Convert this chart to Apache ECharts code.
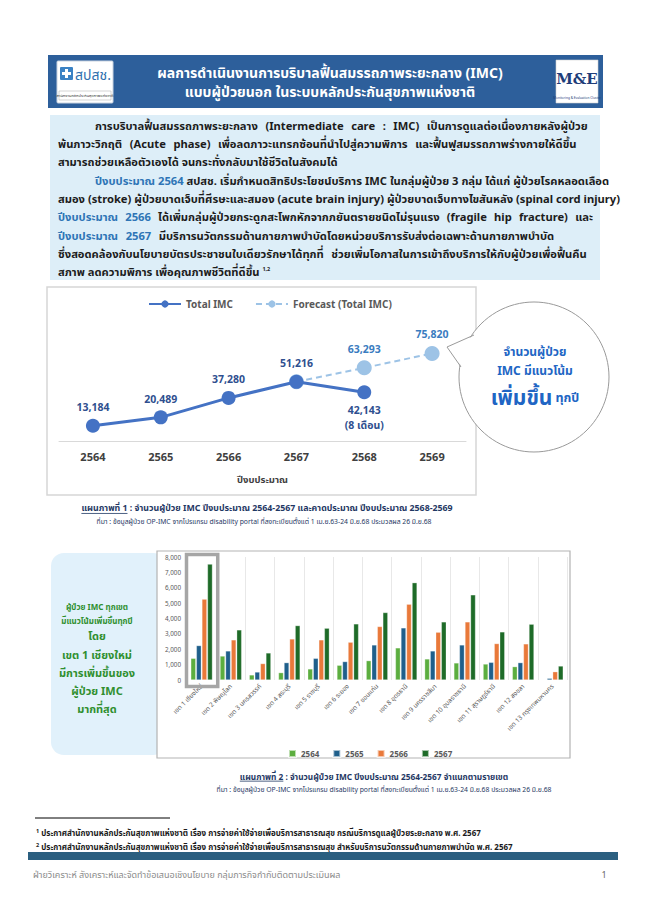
<!DOCTYPE html>
<html><head><meta charset="utf-8">
<script src="https://cdn.jsdelivr.net/npm/echarts@6.0.0/dist/echarts.min.js"></script>
<style>html,body{margin:0;padding:0;background:#fff}#c{width:647px;height:912px}#m{position:absolute;left:-9999px;top:0;white-space:pre;visibility:hidden}</style>
</head><body><div id="c"></div><span id="m"></span>
<script>
// ---------- data ----------
const lineYears = ['2564', '2565', '2566', '2567', '2568', '2569'];
const totalIMC = [13184, 20489, 37280, 51216, 42143, null];
const forecastIMC = [null, null, null, 51216, 63293, 75820];

const regions = ['เขต 1 เชียงใหม่', 'เขต 2 พิษณุโลก', 'เขต 3 นครสวรรค์', 'เขต 4 สระบุรี', 'เขต 5 ราชบุรี', 'เขต 6 ระยอง', 'เขต 7 ขอนแก่น', 'เขต 8 อุดรธานี', 'เขต 9 นครราชสีมา', 'เขต 10 อุบลราชธานี', 'เขต 11 สุราษฎร์ธานี', 'เขต 12 สงขลา', 'เขต 13 กรุงเทพมหานคร'];
const barYears = ['2564', '2565', '2566', '2567'];
const y2564 = [1410, 1560, 330, 480, 720, 960, 1260, 2090, 1370, 1110, 1040, 870, 0];
const y2565 = [2240, 1890, 520, 1130, 1410, 1200, 2280, 3390, 1890, 2280, 1150, 1130, 110];
const y2566 = [5260, 2610, 1070, 2670, 2610, 2460, 3480, 4930, 3110, 3780, 2370, 2350, 540];
const y2567 = [7540, 3260, 1760, 3540, 3370, 3650, 4390, 6330, 3780, 5540, 3130, 3630, 910];

// ---------- styles ----------
const FONT = "'Noto Sans', 'Noto Sans Thai', sans-serif";
const barColors = ['#5cae3f', '#1f5f8b', '#e9793a', '#1e6b28'];
const fmt = v => Number(v).toLocaleString('en-US');

const measureSpan = document.getElementById('m');
function textW(str, size, weight) {
  measureSpan.style.font = (weight || 'bold') + ' ' + size + 'px ' + FONT;
  measureSpan.textContent = str;
  return measureSpan.getBoundingClientRect().width;
}

function T(text, x, y, size, fill, opts) {
  return {
    type: 'text', z: 50,
    style: Object.assign({
      text: text, x: x, y: y, fill: fill, fontSize: size, fontWeight: 'bold',
      fontFamily: FONT, verticalAlign: 'middle', align: 'left'
    }, opts || {})
  };
}

// caption with underlined lead
function caption(lead, rest, cx, y, size, color) {
  const full = lead + rest;
  const w = textW(full, size);
  const lw = textW(lead, size);
  const x0 = cx - w / 2;
  return [
    T(full, x0, y, size, color),
    { type: 'line', z: 50, shape: { x1: x0, y1: y + size * 0.62, x2: x0 + lw, y2: y + size * 0.62 }, style: { stroke: color, lineWidth: 0.8 } }
  ];
}

// ---------- paragraph ----------
const PF = 11.2;
const PARA_RIGHT = 593;
const BLUE = '#2e75b6', INK = '#1c1c1c';
const paraRich = {
  b: { fill: BLUE, color: BLUE, fontSize: PF, fontWeight: 'bold', fontFamily: FONT },
  s: { fill: '#222', color: '#222', fontSize: 5.5, fontWeight: 'bold', fontFamily: FONT, verticalAlign: 'top' }
};
// [x start, justify, text]  ({b|...} marks blue words)
const paraLines = [
  [95, true, 'การบริบาลฟื้นสมรรถภาพระยะกลาง (Intermediate care : IMC) เป็นการดูแลต่อเนื่องภายหลังผู้ป่วย'],
  [58, true, 'พ้นภาวะวิกฤติ (Acute phase) เพื่อลดภาวะแทรกซ้อนที่นำไปสู่ความพิการ และฟื้นฟูสมรรถภาพร่างกายให้ดีขึ้น'],
  [58, false, 'สามารถช่วยเหลือตัวเองได้ จนกระทั่งกลับมาใช้ชีวิตในสังคมได้'],
  [95, true, '{b|ปีงบประมาณ 2564} สปสช. เริ่มกำหนดสิทธิประโยชน์บริการ IMC ในกลุ่มผู้ป่วย 3 กลุ่ม ได้แก่ ผู้ป่วยโรคหลอดเลือด'],
  [58, true, 'สมอง (stroke) ผู้ป่วยบาดเจ็บที่ศีรษะและสมอง (acute brain injury) ผู้ป่วยบาดเจ็บทางไขสันหลัง (spinal cord injury)'],
  [58, true, '{b|ปีงบประมาณ 2566} ได้เพิ่มกลุ่มผู้ป่วยกระดูกสะโพกหักจากภยันตรายชนิดไม่รุนแรง (fragile hip fracture) และ'],
  [58, true, '{b|ปีงบประมาณ 2567} มีบริการนวัตกรรมด้านกายภาพบำบัดโดยหน่วยบริการรับส่งต่อเฉพาะด้านกายภาพบำบัด'],
  [58, true, 'ซึ่งสอดคล้องกับนโยบายบัตรประชาชนใบเดียวรักษาได้ทุกที่ ช่วยเพิ่มโอกาสในการเข้าถึงบริการให้กับผู้ป่วยเพื่อฟื้นคืน'],
  [58, false, 'สภาพ ลดความพิการ เพื่อคุณภาพชีวิตที่ดีขึ้น {s|1,2}']
];
const paraY = [125, 143, 161, 180, 198, 216, 235, 253, 271];

function paraElements() {
  const out = [];
  const spaceW = textW('a b', PF) - textW('ab', PF);
  paraLines.forEach((l, i) => {
    const x0 = l[0], just = l[1], txt = l[2], y = paraY[i];
    if (!just) { out.push(T(txt, x0, y, PF, INK, { rich: paraRich })); return; }
    const words = [];
    txt.split(/(\{b\|[^}]*\})/).forEach(part => {
      if (!part) return;
      const m = part.match(/^\{b\|([^}]*)\}$/);
      const color = m ? BLUE : INK;
      (m ? m[1] : part).split(' ').forEach(w => { if (w) words.push({ w: w, c: color }); });
    });
    const widths = words.map(o => textW(o.w, PF));
    const sum = widths.reduce((a, b) => a + b, 0);
    let gap = words.length > 1 ? (PARA_RIGHT - x0 - sum) / (words.length - 1) : 0;
    gap = Math.min(Math.max(gap, spaceW), spaceW * 2.6);
    let x = x0;
    words.forEach((o, k) => {
      out.push(T(o.w, x, y, PF, o.c));
      x += widths[k] + gap;
    });
  });
  return out;
}

const supRich = { s: { fontSize: 5.5, fill: '#1a1a1a', color: '#1a1a1a', verticalAlign: 'top', fontFamily: FONT, fontWeight: 'bold' } };

const elements = [
  // banner
  { type: 'rect', z: -10, shape: { x: 48, y: 55, width: 555, height: 53 }, style: { fill: '#2d5f9b' } },
  { type: 'rect', z: 40, shape: { x: 57, y: 61, width: 56, height: 42, r: 1 }, style: { fill: '#ffffff', stroke: '#c9d3e0' } },
  { type: 'rect', z: 41, shape: { x: 60, y: 67, width: 13, height: 13, r: 1 }, style: { fill: '#3b82c4' } },
  { type: 'rect', z: 42, shape: { x: 65, y: 69, width: 3, height: 9 }, style: { fill: '#fff' } },
  { type: 'rect', z: 42, shape: { x: 62, y: 72, width: 9, height: 3 }, style: { fill: '#fff' } },
  T('สปสช.', 75, 74, 14, '#2f6fae', { fontWeight: 'normal' }),
  { type: 'rect', z: 41, shape: { x: 59, y: 91, width: 52, height: 9 }, style: { fill: '#fff', stroke: '#b9b9b9', lineWidth: 0.6 } },
  T('สำนักงานหลักประกันสุขภาพแห่งชาติ', 85, 95.5, 4, '#333', { align: 'center', fontWeight: 'normal' }),
  T('ผลการดำเนินงานการบริบาลฟื้นสมรรถภาพระยะกลาง (IMC)', 330, 72, 14, '#ffffff', { align: 'center' }),
  T('แบบผู้ป่วยนอก ในระบบหลักประกันสุขภาพแห่งชาติ', 330, 91, 14, '#ffffff', { align: 'center' }),
  { type: 'rect', z: 40, shape: { x: 556, y: 60, width: 42, height: 43 }, style: { fill: '#ffffff', stroke: '#d0d0d0', lineWidth: 0.6 } },
  T('M&E', 577, 79, 15, '#1f3e7a', { align: 'center', fontFamily: "'DejaVu Serif', serif", fontWeight: 'bold' }),
  T('Monitoring & Evaluation Cluster', 577, 98, 3.2, '#1f3e7a', { align: 'center', fontWeight: 'normal' }),

  // paragraph box
  { type: 'rect', z: -10, shape: { x: 50, y: 115, width: 550, height: 165 }, style: { fill: '#ddeef8' } }
].concat(paraElements()).concat([

  // line chart box
  { type: 'rect', z: -10, shape: { x: 47, y: 287, width: 429, height: 208 }, style: { fill: '#ffffff', stroke: '#d6d6d6', lineWidth: 1.5 } },
  // speech bubble
  { type: 'circle', z: 45, shape: { cx: 534, cy: 377, r: 75 }, style: { fill: '#ffffff', stroke: '#9a9a9a', lineWidth: 1 } },
  { type: 'polygon', z: 46, shape: { points: [[474, 336], [447, 347], [462, 367], [468, 352]] }, style: { fill: '#ffffff' } },
  { type: 'polyline', z: 47, shape: { points: [[474, 335], [447, 347], [461, 367]] }, style: { stroke: '#9a9a9a', lineWidth: 1, fill: null } },
  T('จำนวนผู้ป่วย', 535, 351, 12, '#2065c4', { align: 'center' }),
  T('IMC มีแนวโน้ม', 535, 370, 12, '#2065c4', { align: 'center' }),
  T('{a|เพิ่มขึ้น} {c|ทุกปี}', 535, 397, 12, '#2065c4', { align: 'center', rich: {
    a: { fill: '#2065c4', color: '#2065c4', fontSize: 21, fontWeight: 'bold', fontFamily: FONT },
    c: { fill: '#2065c4', color: '#2065c4', fontSize: 12.5, fontWeight: 'bold', fontFamily: FONT } } })
]).concat(caption('แผนภาพที่ 1', ' : จำนวนผู้ป่วย IMC ปีงบประมาณ 2564-2567 และคาดประมาณ ปีงบประมาณ 2568-2569', 267, 508, 8.8, '#1f3864')).concat([
  T('ที่มา : ข้อมูลผู้ป่วย OP-IMC จากโปรแกรม disability portal ที่ลงทะเบียนตั้งแต่ 1 เม.ย.63-24 มิ.ย.68 ประมวลผล 26 มิ.ย.68', 264, 521, 6.8, '#1f3864', { align: 'center', fontWeight: 'normal' }),

  // left note box
  { type: 'rect', z: -12, shape: { x: 51, y: 553, width: 115, height: 202, r: 13 }, style: { fill: '#e1f1fb' } },
  T('ผู้ป่วย IMC ทุกเขต', 97, 606, 8, '#2f8f2f', { align: 'center' }),
  T('มีแนวโน้มเพิ่มขึ้นทุกปี', 97, 620, 8, '#2f8f2f', { align: 'center' }),
  T('โดย', 97, 635, 11, '#2f8f2f', { align: 'center' }),
  T('เขต 1 เชียงใหม่', 97, 654, 11, '#2f8f2f', { align: 'center' }),
  T('มีการเพิ่มขึ้นของ', 97, 672, 11, '#2f8f2f', { align: 'center' }),
  T('ผู้ป่วย IMC', 97, 690, 11, '#2f8f2f', { align: 'center' }),
  T('มากที่สุด', 97, 708, 11, '#2f8f2f', { align: 'center' }),

  // bar chart box
  { type: 'rect', z: -10, shape: { x: 157, y: 551, width: 413, height: 207 }, style: { fill: '#ffffff', stroke: '#b3b3b3', lineWidth: 1.2 } }
]).concat(caption('แผนภาพที่ 2', ' : จำนวนผู้ป่วย IMC ปีงบประมาณ 2564-2567 จำแนกตามรายเขต', 374, 776, 8.3, '#1f3864')).concat([
  T('ที่มา : ข้อมูลผู้ป่วย OP-IMC จากโปรแกรม disability portal ที่ลงทะเบียนตั้งแต่ 1 เม.ย.63-24 มิ.ย.68 ประมวลผล 26 มิ.ย.68', 384, 789, 6.8, '#1f3864', { align: 'center', fontWeight: 'normal' }),

  // footnotes
  { type: 'line', z: 40, shape: { x1: 35, y1: 818, x2: 170, y2: 818 }, style: { stroke: '#000', lineWidth: 1 } },
  T('{s|1} ประกาศสำนักงานหลักประกันสุขภาพแห่งชาติ เรื่อง การจ่ายค่าใช้จ่ายเพื่อบริการสาธารณสุข กรณีบริการดูแลผู้ป่วยระยะกลาง พ.ศ. 2567', 36, 832, 8, '#1a1a1a', { rich: supRich }),
  T('{s|2} ประกาศสำนักงานหลักประกันสุขภาพแห่งชาติ เรื่อง การจ่ายค่าใช้จ่ายเพื่อบริการสาธารณสุข สำหรับบริการนวัตกรรมด้านกายภาพบำบัด พ.ศ. 2567', 36, 846, 8, '#1a1a1a', { rich: supRich }),

  // footer
  { type: 'rect', z: -10, shape: { x: 28, y: 852, width: 590, height: 8 }, style: { fill: '#2b5f80' } },
  T('ฝ่ายวิเคราะห์ สังเคราะห์และจัดทำข้อเสนอเชิงนโยบาย กลุ่มภารกิจกำกับติดตามประเมินผล', 33, 874, 9, '#8a8a8a', { fontWeight: 'normal' }),
  T('1', 604, 874, 9, '#666', { align: 'center', fontWeight: 'normal' })
]);
// measuring helper no longer needed
measureSpan.parentNode.removeChild(measureSpan);

const totalData = totalIMC.map((v, i) => {
  if (v == null) return null;
  if (i === 4) return { value: v, label: { position: 'bottom', distance: 3, formatter: p => fmt(p.value) + '\n(8 เดือน)', lineHeight: 15 } };
  return v;
});
const forecastData = forecastIMC.map((v, i) => {
  if (v == null) return null;
  if (totalIMC[i] === v) return { value: v, label: { show: false } };
  return v;
});

const chart = echarts.init(document.getElementById('c'), null, { renderer: 'svg', width: 647, height: 912 });
const option = {
  backgroundColor: '#ffffff',
  animation: false,
  textStyle: { fontFamily: FONT },
  graphic: { elements: elements },
  grid: [
    { left: 59, top: 337, width: 407, height: 104 },
    { left: 187, top: 557, width: 380, height: 123 }
  ],
  legend: [
    {
      left: 143, top: 294, itemWidth: 32, itemHeight: 9, itemGap: 22,
      data: ['Total IMC', 'Forecast (Total IMC)'],
      textStyle: { color: '#595959', fontSize: 10, fontWeight: 'bold', fontFamily: FONT }
    },
    {
      left: 283, top: 744, itemWidth: 7, itemHeight: 7, itemGap: 13, icon: 'rect',
      data: barYears,
      textStyle: { color: '#595959', fontSize: 8, fontWeight: 'bold', fontFamily: FONT }
    }
  ],
  xAxis: [
    {
      gridIndex: 0, type: 'category', data: lineYears, boundaryGap: true,
      axisLine: { lineStyle: { color: '#d9d9d9', width: 1 } },
      axisTick: { show: false },
      axisLabel: { color: '#404040', fontSize: 11, fontWeight: 'bold', margin: 10, fontFamily: FONT },
      name: 'ปีงบประมาณ', nameLocation: 'middle', nameGap: 33,
      nameTextStyle: { color: '#404040', fontSize: 9.5, fontWeight: 'bold', fontFamily: FONT }
    },
    {
      gridIndex: 1, type: 'category', data: regions, boundaryGap: true,
      axisLine: { show: false },
      axisTick: { show: false },
      splitLine: { show: true, lineStyle: { color: '#e8e8e8', width: 1 } },
      axisLabel: { color: '#595959', fontSize: 6.5, rotate: 45, margin: 5, interval: 0, fontFamily: FONT }
    }
  ],
  yAxis: [
    { gridIndex: 0, type: 'value', min: 0, max: 90000, show: false },
    {
      gridIndex: 1, type: 'value', min: 0, max: 8000, interval: 1000,
      axisLine: { show: false }, axisTick: { show: false },
      splitLine: { show: false },
      axisLabel: { color: '#595959', fontSize: 6.3, margin: 6, formatter: fmt, fontFamily: FONT }
    }
  ],
  series: [
    {
      name: 'Forecast (Total IMC)', type: 'line', xAxisIndex: 0, yAxisIndex: 0, z: 2,
      data: forecastData, connectNulls: false,
      symbol: 'circle', symbolSize: 15,
      lineStyle: { color: '#9dc3e6', width: 2, type: [6, 4] },
      itemStyle: { color: '#9dc3e6' },
      label: { show: true, position: 'top', distance: 6, color: '#3a7cc0', fontSize: 10.5, fontWeight: 'bold', formatter: p => fmt(p.value), fontFamily: FONT }
    },
    {
      name: 'Total IMC', type: 'line', xAxisIndex: 0, yAxisIndex: 0, z: 3,
      data: totalData,
      symbol: 'circle', symbolSize: 14,
      lineStyle: { color: '#4472c4', width: 3 },
      itemStyle: { color: '#4472c4' },
      label: { show: true, position: 'top', distance: 6, color: '#2f4f8f', fontSize: 10.5, fontWeight: 'bold', formatter: p => fmt(p.value), fontFamily: FONT }
    }
  ].concat([y2564, y2565, y2566, y2567].map((d, i) => ({
    name: barYears[i], type: 'bar', xAxisIndex: 1, yAxisIndex: 1,
    data: d, barGap: '12%', barCategoryGap: '26%',
    itemStyle: { color: barColors[i], borderColor: 'rgba(255,255,255,0.6)', borderWidth: 0.5 }
  })))
};
chart.setOption(option);

// highlight box around the first region, placed from the axis scale
const top8k = chart.convertToPixel({ gridIndex: 1 }, [0, 8000]);
const zero = chart.convertToPixel({ gridIndex: 1 }, [0, 0]);
const bw = 380 / regions.length;
chart.setOption({
  graphic: {
    elements: [{
      id: 'hl', type: 'rect', z: 20,
      shape: { x: top8k[0] - bw / 2 - 0.5, y: top8k[1] - 2.5, width: bw + 2, height: zero[1] - top8k[1] + 9 },
      style: { fill: 'none', stroke: '#a6a6a6', lineWidth: 3.5 }
    }]
  }
});
</script></body></html>
